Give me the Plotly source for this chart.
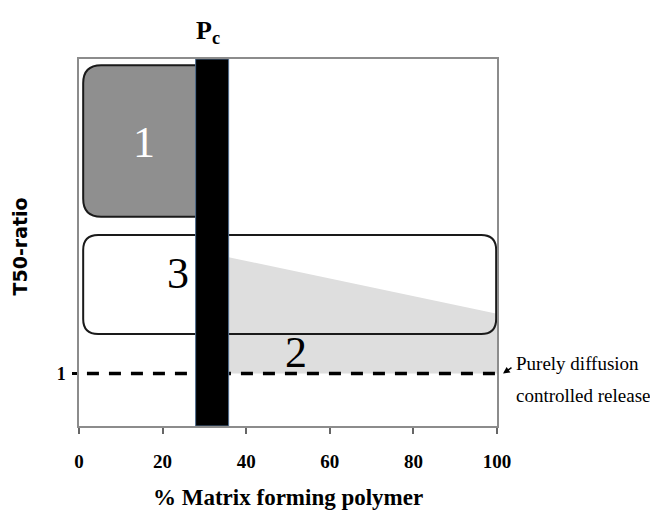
import plotly.graph_objects as go

# ---- data ----
x_ticks = [0, 20, 40, 60, 80, 100]
y_ticks = [1]
y_ticklabels = ["1"]
y_range = [0, 7]
x_range = [0, 100]

pc_x = [27.9, 35.8]              # percolation threshold band
region1_x = [1.0, 31.0]          # region 1 (gray rounded box)
region1_y = [3.99, 6.88]
region3_x = [1.0, 99.8]          # region 3 (outlined rounded box)
region3_y = [1.755, 3.643]
region2_x = [35.8, 100, 100, 35.8]   # region 2 (light gray wedge)
region2_y = [3.22, 2.14, 1.0, 1.0]
diffusion_ratio = 1.0
dash_start = 1.9

region_labels = ["1", "3", "2"]
region_label_x = [15.5, 23.6, 52.0]
region_label_y = [5.40, 2.90, 1.41]
region_label_colors = ["white", "black", "black"]

# pixel -> data scale (plot area 419 x 367 px)
PX_X = 419 / 100.0
PX_Y = 367 / 7.0


def rounded_rect(x0, x1, y0, y1, r_px, round_right=True):
    rx = r_px / PX_X
    ry = r_px / PX_Y
    if round_right:
        return (f"M {x0+rx},{y1} L {x1-rx},{y1} Q {x1},{y1} {x1},{y1-ry} "
                f"L {x1},{y0+ry} Q {x1},{y0} {x1-rx},{y0} "
                f"L {x0+rx},{y0} Q {x0},{y0} {x0},{y0+ry} "
                f"L {x0},{y1-ry} Q {x0},{y1} {x0+rx},{y1} Z")
    return (f"M {x0+rx},{y1} L {x1},{y1} L {x1},{y0} "
            f"L {x0+rx},{y0} Q {x0},{y0} {x0},{y0+ry} "
            f"L {x0},{y1-ry} Q {x0},{y1} {x0+rx},{y1} Z")


fig = go.Figure()
fig.add_trace(go.Scatter(x=x_range, y=y_range, mode="markers",
                         marker=dict(opacity=0), hoverinfo="skip",
                         showlegend=False))

shapes = []
# region 2 wedge
poly = "M " + " L ".join(f"{x},{y}" for x, y in zip(region2_x, region2_y)) + " Z"
shapes.append(dict(type="path", xref="x", yref="y", path=poly,
                   fillcolor="#dedede", line=dict(width=0)))
# region 3 outline
shapes.append(dict(type="path", xref="x", yref="y",
                   path=rounded_rect(region3_x[0], region3_x[1],
                                     region3_y[0], region3_y[1], 15),
                   fillcolor="rgba(0,0,0,0)",
                   line=dict(color="#1a1a1a", width=2)))
# region 1
shapes.append(dict(type="path", xref="x", yref="y",
                   path=rounded_rect(region1_x[0], region1_x[1],
                                     region1_y[0], region1_y[1], 18,
                                     round_right=False),
                   fillcolor="#8f8f8f",
                   line=dict(color="#1a1a1a", width=2)))
# dashed reference line
shapes.append(dict(type="line", xref="x", yref="y",
                   x0=dash_start, x1=x_range[1],
                   y0=diffusion_ratio, y1=diffusion_ratio,
                   line=dict(color="black", width=3.5, dash="12px,10px")))
# Pc band
shapes.append(dict(type="rect", xref="x", yref="y",
                   x0=pc_x[0], x1=pc_x[1], y0=y_range[0], y1=y_range[1],
                   fillcolor="black", line=dict(color="#4f6d8f", width=1)))

annotations = []
for t, x, y, c in zip(region_labels, region_label_x, region_label_y,
                      region_label_colors):
    annotations.append(dict(text=t, x=x, y=y, xref="x", yref="y",
                            showarrow=False,
                            font=dict(family="Liberation Serif", size=44,
                                      color=c)))
# Pc label
annotations.append(dict(text="<b>P<sub>c</sub></b>",
                        x=(pc_x[0] + pc_x[1]) / 2, y=1, xref="x", yref="paper",
                        xanchor="center", yanchor="bottom", yshift=9,
                        xshift=-4, showarrow=False,
                        font=dict(family="Liberation Serif", size=26,
                                  color="black")))
# axis titles
annotations.append(dict(text="<b>% Matrix forming polymer</b>",
                        x=0.5, y=0, xref="paper", yref="paper",
                        xanchor="center", yanchor="middle", yshift=-71,
                        showarrow=False,
                        font=dict(family="Liberation Serif", size=23,
                                  color="black")))
annotations.append(dict(text="<b>T50-ratio</b>", textangle=-90,
                        x=0, y=0.5, xref="paper", yref="paper",
                        xanchor="center", yanchor="middle",
                        xshift=-60, yshift=-4, showarrow=False,
                        font=dict(family="DejaVu Sans", size=19,
                                  color="black")))
# side note
annotations.append(dict(text="Purely diffusion", x=1, y=1.20,
                        xref="paper", yref="y", xanchor="left",
                        yanchor="middle", xshift=17, showarrow=False,
                        font=dict(family="Liberation Serif", size=19,
                                  color="black")))
annotations.append(dict(text="controlled release", x=1, y=0.59,
                        xref="paper", yref="y", xanchor="left",
                        yanchor="middle", xshift=17, showarrow=False,
                        font=dict(family="Liberation Serif", size=19,
                                  color="black")))
annotations.append(dict(text="", x=1, y=diffusion_ratio, xref="paper",
                        yref="y", xshift=6, showarrow=True, ax=10, ay=-7,
                        arrowhead=2, arrowsize=0.9, arrowwidth=1.5,
                        arrowcolor="black"))

fig.update_layout(
    width=650, height=510,
    margin=dict(l=79, r=153, t=59, b=84),
    paper_bgcolor="white", plot_bgcolor="white",
    shapes=shapes, annotations=annotations, showlegend=False,
    xaxis=dict(range=x_range, tickvals=x_ticks, showgrid=False,
               zeroline=False, showline=True, mirror=True,
               linecolor="#8c8c8c", linewidth=1.5,
               ticks="outside", ticklen=6, tickcolor="#666", tickwidth=1.5,
               ticklabelstandoff=11,
               tickfont=dict(family="Liberation Serif", size=19,
                             color="black", weight="bold")),
    yaxis=dict(range=y_range, tickvals=y_ticks, ticktext=y_ticklabels,
               showgrid=False, zeroline=False, showline=True, mirror=True,
               linecolor="#8c8c8c", linewidth=1.5,
               ticks="outside", ticklen=5, tickcolor="black", tickwidth=3,
               ticklabelstandoff=3,
               tickfont=dict(family="Liberation Serif", size=18,
                             color="black", weight="bold")),
)

fig.write_html("out.html", config={"displayModeBar": False},
               post_script="document.body.style.margin='0px';"
                           "document.body.style.overflow='hidden';")
